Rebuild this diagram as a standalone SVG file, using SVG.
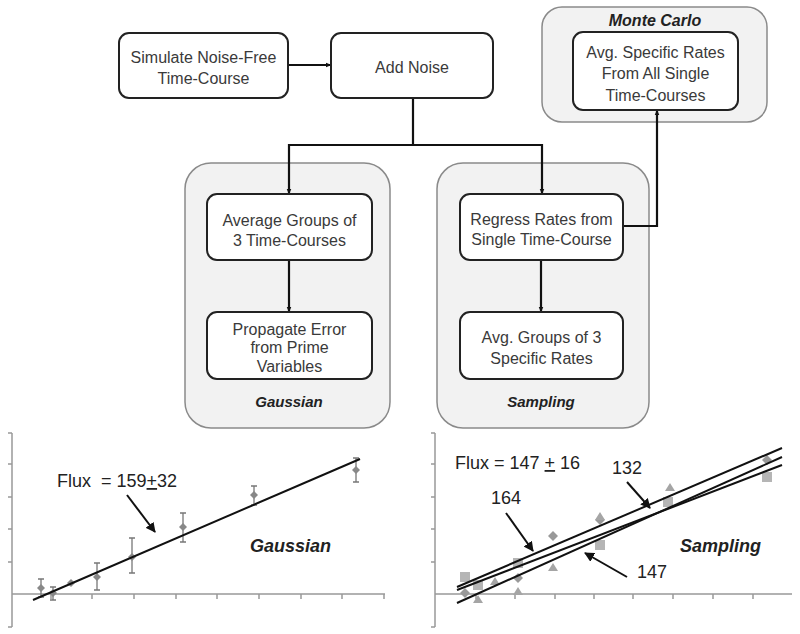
<svg xmlns="http://www.w3.org/2000/svg" width="800" height="634" viewBox="0 0 800 634">
<defs>
<marker id="ah" viewBox="0 0 10 10" refX="9" refY="5" markerWidth="6" markerHeight="6" orient="auto-start-reverse" markerUnits="userSpaceOnUse">
<path d="M0,1 L10,5 L0,9 z" fill="#111"/>
</marker>
<marker id="ah2" viewBox="0 0 10 10" refX="9" refY="5" markerWidth="10" markerHeight="10" orient="auto" markerUnits="userSpaceOnUse">
<path d="M0,0 L10,5 L0,10 z" fill="#111"/>
</marker>
<style>
.box{fill:#fff;stroke:#222;stroke-width:2}
.grp{fill:#f2f2f2;stroke:#8a8a8a;stroke-width:1.5}
.t{font-family:"Liberation Sans",Arial,sans-serif;font-size:16px;fill:#3a3a3a;text-anchor:middle}
.lab{font-family:"Liberation Sans",Arial,sans-serif;font-size:15px;font-weight:bold;font-style:italic;fill:#222;text-anchor:middle}
.con{fill:none;stroke:#111;stroke-width:2.2}
.ax{fill:none;stroke:#999;stroke-width:1.5}
.fit{stroke:#111;stroke-width:2}
.ct{font-family:"Liberation Sans",Arial,sans-serif;font-size:18px;fill:#222}
.cl{font-family:"Liberation Sans",Arial,sans-serif;font-size:18px;font-weight:bold;font-style:italic;fill:#222}
.eb{stroke:#777;stroke-width:1.3;fill:none}
.pt{fill:#888}
</style>
</defs>

<g id="gaussian-group">
<rect class="grp" x="185" y="163" width="205" height="265" rx="26"/>
<text class="lab" x="289" y="407">Gaussian</text>
</g>
<g id="sampling-group">
<rect class="grp" x="437" y="163" width="212" height="265" rx="26"/>
<text class="lab" x="541" y="407">Sampling</text>
</g>
<g id="montecarlo-group">
<rect class="grp" x="542" y="7" width="225" height="115" rx="20"/>
<text class="lab" x="655" y="26" style="font-size:16px">Monte Carlo</text>
</g>

<g id="connectors">
<line class="con" x1="288" y1="65" x2="331" y2="65" marker-end="url(#ah)"/>
<polyline class="con" points="413,98 413,145 289,145 289,194" marker-end="url(#ah)"/>
<polyline class="con" points="413,145 542,145 542,194" marker-end="url(#ah)"/>
<line class="con" x1="289" y1="260" x2="289" y2="312" marker-end="url(#ah)"/>
<line class="con" x1="541" y1="260" x2="541" y2="312" marker-end="url(#ah)"/>
<polyline class="con" points="623,226 657,226 657,110" marker-end="url(#ah)"/>
</g>

<g id="simulate">
<rect class="box" x="119" y="33" width="169" height="65" rx="10"/>
<text class="t" x="203.5" y="63">Simulate Noise-Free</text>
<text class="t" x="203.5" y="84">Time-Course</text>
</g>
<g id="add-noise">
<rect class="box" x="331" y="33" width="162" height="65" rx="10"/>
<text class="t" x="412" y="73">Add Noise</text>
</g>
<g id="avg-specific">
<rect class="box" x="573" y="32" width="165" height="78" rx="10"/>
<text class="t" x="655.5" y="58">Avg. Specific Rates</text>
<text class="t" x="655.5" y="79">From All Single</text>
<text class="t" x="655.5" y="101">Time-Courses</text>
</g>
<g id="average-groups">
<rect class="box" x="207" y="194" width="165" height="66" rx="10"/>
<text class="t" x="289.5" y="226">Average Groups of</text>
<text class="t" x="289.5" y="246">3 Time-Courses</text>
</g>
<g id="propagate">
<rect class="box" x="207" y="312" width="165" height="67" rx="10"/>
<text class="t" x="289.5" y="335">Propagate Error</text>
<text class="t" x="289.5" y="353">from Prime</text>
<text class="t" x="289.5" y="372">Variables</text>
</g>
<g id="regress">
<rect class="box" x="460" y="194" width="163" height="66" rx="10"/>
<text class="t" x="541.5" y="225">Regress Rates from</text>
<text class="t" x="541.5" y="245">Single Time-Course</text>
</g>
<g id="avg-groups-3">
<rect class="box" x="460" y="312" width="163" height="67" rx="10"/>
<text class="t" x="541.5" y="343">Avg. Groups of 3</text>
<text class="t" x="541.5" y="364">Specific Rates</text>
</g>

<g id="chart-gaussian">
<path class="ax" d="M12,433 V627 M8,433 H12 M8,464 H12 M8,497 H12 M8,529 H12 M8,562 H12 M8,627 H12 M12,594 H385"/>
<path class="ax" d="M51,594 v5 M92,594 v5 M134,594 v5 M176,594 v5 M217,594 v5 M259,594 v5 M301,594 v5 M342,594 v5 M384,594 v5"/>
<path class="eb" d="M41,579 V597 M38,579 H44 M38,597 H44 M53,587 V600 M50,587 H56 M50,600 H56 M97,563 V590 M94,563 H100 M94,590 H100 M132,538 V573 M129,538 H135 M129,573 H135 M183,513 V542 M180,513 H186 M180,542 H186 M254,486 V505 M251,486 H257 M251,505 H257 M356,458 V482 M353,458 H359 M353,482 H359"/>
<g class="pt">
<path d="M41,584 l4,4 -4,4 -4,-4z"/>
<path d="M53,589 l4,4 -4,4 -4,-4z"/>
<path d="M71,579 l4,4 -4,4 -4,-4z"/>
<path d="M97,573 l4,4 -4,4 -4,-4z"/>
<path d="M132,553 l4,4 -4,4 -4,-4z"/>
<path d="M183,523 l4,4 -4,4 -4,-4z"/>
<path d="M254,491 l4,4 -4,4 -4,-4z"/>
<path d="M356,466 l4,4 -4,4 -4,-4z"/>
</g>
<line class="fit" x1="33" y1="600" x2="360" y2="459"/>
<text class="ct" x="57" y="487" xml:space="preserve">Flux  = 159<tspan text-decoration="underline">+</tspan>32</text>
<line class="fit" x1="127" y1="495" x2="155" y2="532" marker-end="url(#ah2)"/>
<text class="cl" x="250" y="552">Gaussian</text>
</g>

<g id="chart-sampling">
<path class="ax" d="M435,433 V627 M431,433 H435 M431,464 H435 M431,497 H435 M431,529 H435 M431,562 H435 M431,627 H435 M435,594 H792"/>
<path class="ax" d="M476,594 v5 M515,594 v5 M555,594 v5 M594,594 v5 M633,594 v5 M673,594 v5 M713,594 v5 M753,594 v5"/>
<g fill="#b5b5b5">
<rect x="460" y="572" width="10" height="10"/>
<rect x="473" y="580" width="10" height="10"/>
<rect x="513" y="558" width="10" height="10"/>
<rect x="595" y="540" width="10" height="10"/>
<rect x="663" y="497" width="10" height="10"/>
<rect x="762" y="472" width="10" height="10"/>
</g>
<g fill="#999">
<path d="M465,588 l5,5 -5,5 -5,-5z"/>
<path d="M518,573 l5,5 -5,5 -5,-5z"/>
<path d="M553,531 l5,5 -5,5 -5,-5z"/>
<path d="M600,515 l5,5 -5,5 -5,-5z"/>
<path d="M767,455 l5,5 -5,5 -5,-5z"/>
</g>
<g fill="#a5a5a5">
<path d="M478,595 l5,8 h-10z"/>
<path d="M495,577 l5,8 h-10z"/>
<path d="M518,587 l5,8 h-10z"/>
<path d="M553,563 l5,8 h-10z"/>
<path d="M600,512 l5,8 h-10z"/>
<path d="M670,483 l5,8 h-10z"/>
</g>
<line class="fit" x1="457" y1="587" x2="782" y2="448"/>
<line class="fit" x1="457" y1="590" x2="782" y2="465"/>
<line class="fit" x1="457" y1="603" x2="782" y2="457"/>
<text class="ct" x="455" y="469">Flux = 147 <tspan text-decoration="underline">+</tspan> 16</text>
<text class="ct" x="491" y="504">164</text>
<line class="fit" x1="506" y1="513" x2="533" y2="551" marker-end="url(#ah2)"/>
<text class="ct" x="612" y="474">132</text>
<line class="fit" x1="627" y1="482" x2="650" y2="508" marker-end="url(#ah2)"/>
<text class="ct" x="637" y="578">147</text>
<line class="fit" x1="627" y1="577" x2="585" y2="553" marker-end="url(#ah2)"/>
<text class="cl" x="680" y="552">Sampling</text>
</g>
</svg>
